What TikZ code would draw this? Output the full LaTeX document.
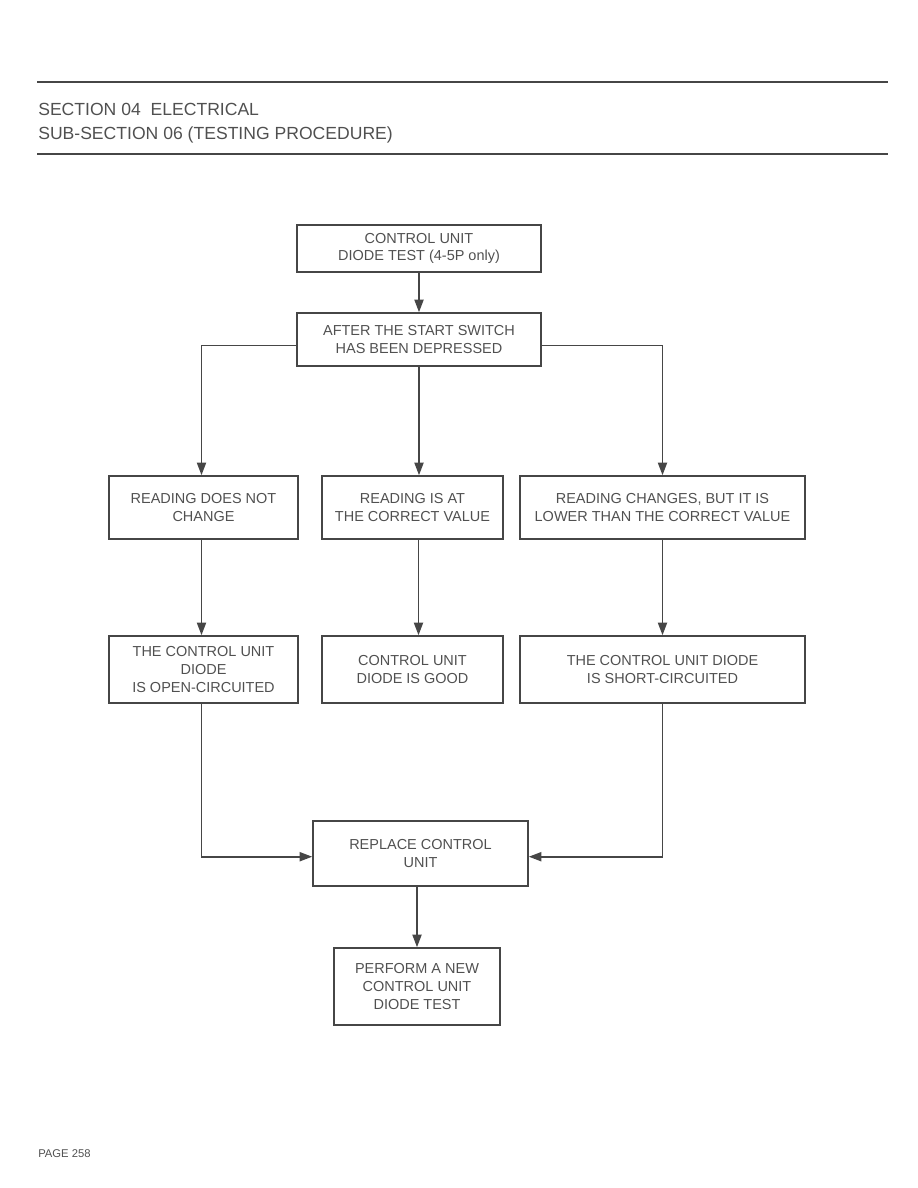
\documentclass[tikz,border=0pt]{standalone}
\usepackage{fontspec}
\setmainfont{Liberation Sans}
\usepackage{tikz}
\usetikzlibrary{arrows.meta, positioning, calc}
\definecolor{inkcolor}{RGB}{70, 70, 70}
\definecolor{textcolor}{RGB}{80, 80, 80}

\begin{document}
\begin{tikzpicture}[
    x=0.025cm, y=-0.025cm,
    box/.style={rectangle, draw=inkcolor, line width=1.1pt, align=center, inner sep=0pt,
        font=\fontsize{10.3}{12.6}\selectfont, text=textcolor},
    link/.style={draw=inkcolor, line width=1.2pt},
    arrow/.style={link, -{Triangle[length=9pt, width=6.5pt]}},
    heading/.style={anchor=base west, inner sep=0pt, text=textcolor},
]
    \useasboundingbox (0,0) rectangle (918,1188);
    % header
    \draw[inkcolor, line width=1.5pt] (37,82) -- (888,82);
    \draw[inkcolor, line width=1.5pt] (37,154) -- (888,154);
    \node[heading, font=\fontsize{12.5}{15}\selectfont] (sec) at (38,116) {SECTION 04\ \ ELECTRICAL};
    \node[heading, font=\fontsize{12.5}{15}\selectfont] (subsec) at (38,140) {SUB-SECTION 06 (TESTING PROCEDURE)};

    % boxes
    \node[box, minimum width=6.1cm, minimum height=1.175cm] (test) at (419,248.5) {CONTROL UNIT\\DIODE TEST (4-5P only)};
    \node[box, minimum width=6.1cm, minimum height=1.325cm] (start) at (419,339.5) {AFTER THE START SWITCH\\HAS BEEN DEPRESSED};
    \node[box, minimum width=4.725cm, minimum height=1.575cm] (nochange) at (203.5,507.5) {READING DOES NOT\\CHANGE};
    \node[box, minimum width=4.525cm, minimum height=1.575cm] (correct) at (412.5,507.5) {READING IS AT\\THE CORRECT VALUE};
    \node[box, minimum width=7.125cm, minimum height=1.575cm] (lower) at (662.5,507.5) {READING CHANGES, BUT IT IS\\LOWER THAN THE CORRECT VALUE};
    \node[box, minimum width=4.725cm, minimum height=1.675cm] (open) at (203.5,669.5) {THE CONTROL UNIT\\DIODE\\IS OPEN-CIRCUITED};
    \node[box, minimum width=4.525cm, minimum height=1.675cm] (good) at (412.5,669.5) {CONTROL UNIT\\DIODE IS GOOD};
    \node[box, minimum width=7.125cm, minimum height=1.675cm] (short) at (662.5,669.5) {THE CONTROL UNIT DIODE\\IS SHORT-CIRCUITED};
    \node[box, minimum width=5.375cm, minimum height=1.625cm] (replace) at (420.5,853.5) {REPLACE CONTROL\\UNIT};
    \node[box, minimum width=4.15cm, minimum height=1.925cm] (retest) at (417,986.5) {PERFORM A NEW\\CONTROL UNIT\\DIODE TEST};

    % connectors
    \draw[arrow] (test) -- (start);
    \draw[arrow] ([yshift=-0.15cm]start.west) -| ([xshift=-0.05cm]nochange.north);
    \draw[arrow] (start.south) -- (start.south |- correct.north);
    \draw[arrow] ([yshift=-0.15cm]start.east) -| (lower.north);
    \draw[arrow] ([xshift=-0.05cm]nochange.south) -- ([xshift=-0.05cm]open.north);
    \draw[arrow] ([xshift=0.15cm]correct.south) -- ([xshift=0.15cm]good.north);
    \draw[arrow] (lower) -- (short);
    \draw[arrow] ([xshift=-0.05cm]open.south) |- ([yshift=-0.08cm]replace.west);
    \draw[arrow] (short.south) |- ([yshift=-0.08cm]replace.east);
    \draw[arrow] (replace.south -| retest.north) -- (retest.north);

    \node[heading, font=\fontsize{8}{10}\selectfont] (page) at (38,1157) {PAGE 258};
\end{tikzpicture}
\end{document}
